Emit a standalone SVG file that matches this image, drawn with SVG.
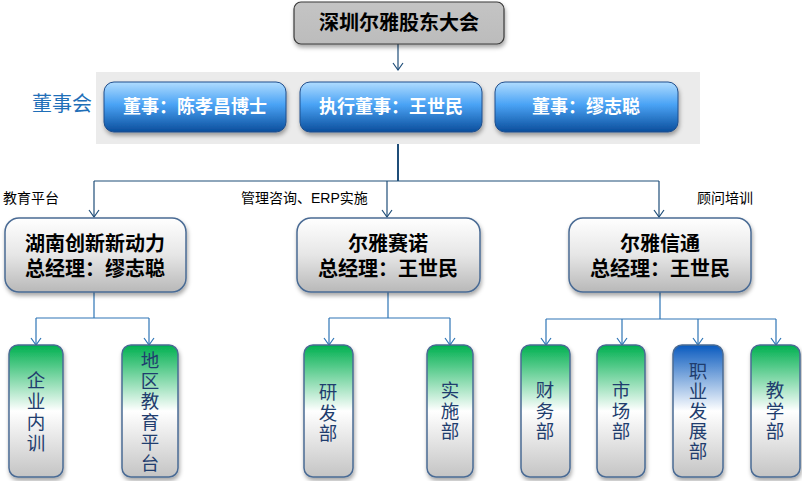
<svg xmlns="http://www.w3.org/2000/svg" width="802" height="481" viewBox="0 0 802 481">
<style>
.cn{font-family:"Liberation Sans","Noto Sans CJK SC",sans-serif}
.top{fill:url(#gGray2);stroke:#3a3a3a;stroke-width:1.2}
.blue{fill:url(#gBlue);stroke:#1f4e8c;stroke-width:1}
.mid{fill:url(#gMid);stroke:#4a6b94;stroke-width:1.5}
.grn{fill:url(#gGreen);stroke:#4a6b94;stroke-width:1.5}
.bl2{fill:url(#gBlue2);stroke:#4a6b94;stroke-width:1.5}
.t1{font-size:20px;font-weight:bold;fill:#000;text-anchor:middle}
.tb{font-size:18px;font-weight:bold;fill:#fff;text-anchor:middle}
.tm{font-size:20px;font-weight:bold;fill:#000;text-anchor:middle}
.tv{font-size:18.5px;fill:#1f3d6e;text-anchor:middle}
.lab{font-size:14px;fill:#000}
.c1{fill:none;stroke:#1f4e79;stroke-width:1.2}
.c2{fill:none;stroke:#2e75b6;stroke-width:1.2}
</style>
<defs>
<linearGradient id="gGray2" x1="0" y1="0" x2="0" y2="1"><stop offset="0" stop-color="#c4c4c4"/><stop offset="1" stop-color="#bcbcbc"/></linearGradient>
<linearGradient id="gBlue" x1="0" y1="0" x2="0" y2="1"><stop offset="0" stop-color="#b0dcff"/><stop offset="0.45" stop-color="#4aa3f5"/><stop offset="1" stop-color="#0b4e9c"/></linearGradient>
<linearGradient id="gMid" x1="0" y1="0" x2="0" y2="1"><stop offset="0" stop-color="#ffffff"/><stop offset="0.5" stop-color="#e6e6e6"/><stop offset="1" stop-color="#b8b8b8"/></linearGradient>
<linearGradient id="gGreen" x1="0" y1="0" x2="0" y2="1"><stop offset="0" stop-color="#00b050"/><stop offset="0.5" stop-color="#ffffff"/><stop offset="1" stop-color="#c4c4c4"/></linearGradient>
<linearGradient id="gBlue2" x1="0" y1="0" x2="0" y2="1"><stop offset="0" stop-color="#0a5bbf"/><stop offset="0.5" stop-color="#ffffff"/><stop offset="1" stop-color="#c4c4c4"/></linearGradient>
<filter id="sh" x="-20%" y="-20%" width="140%" height="150%"><feDropShadow dx="1" dy="3" stdDeviation="2" flood-color="#000" flood-opacity="0.35"/></filter>
<marker id="a1" markerWidth="12" markerHeight="12" refX="6" refY="10" markerUnits="userSpaceOnUse" viewBox="0 0 12 12"><path d="M1,3 L6,10 L11,3" fill="none" stroke="#1f4e79" stroke-width="1.2"/></marker>
<marker id="a2" markerWidth="12" markerHeight="12" refX="6" refY="10" markerUnits="userSpaceOnUse" viewBox="0 0 12 12"><path d="M1,3 L6,10 L11,3" fill="none" stroke="#2e75b6" stroke-width="1.2"/></marker>
</defs>
<rect x="0" y="0" width="802" height="481" fill="#fff"/>
<rect x="96" y="72" width="604" height="72" fill="#ebebeb"/>

<g id="connectors">
<path class="c1" d="M398,44 V70" marker-end="url(#a1)"/>
<path d="M398,144 V181" fill="none" stroke="#1f4e79" stroke-width="2"/>
<path class="c1" d="M94,181 H659"/>
<path class="c1" d="M94,181 V217" marker-end="url(#a1)"/>
<path class="c1" d="M387,181 V217" marker-end="url(#a1)"/>
<path class="c1" d="M659,181 V217" marker-end="url(#a1)"/>
<path class="c2" d="M94,292 V318 M36,318 H149"/>
<path class="c2" d="M36,318 V345" marker-end="url(#a2)"/>
<path class="c2" d="M149,318 V345" marker-end="url(#a2)"/>
<path class="c2" d="M388,292 V318 M329,318 H450"/>
<path class="c2" d="M329,318 V345" marker-end="url(#a2)"/>
<path class="c2" d="M450,318 V345" marker-end="url(#a2)"/>
<path class="c2" d="M660,292 V319 M546,319 H776"/>
<path class="c2" d="M546,319 V345" marker-end="url(#a2)"/>
<path class="c2" d="M622,319 V345" marker-end="url(#a2)"/>
<path class="c2" d="M698,319 V345" marker-end="url(#a2)"/>
<path class="c2" d="M776,319 V345" marker-end="url(#a2)"/>
</g>

<text class="cn lab" x="3" y="203">教育平台</text>
<text class="cn lab" x="241" y="203">管理咨询、ERP实施</text>
<text class="cn lab" x="697" y="203">顾问培训</text>
<text class="cn" x="32" y="111" font-size="20" fill="#1f6fb8">董事会</text>

<g id="top"><rect class="top" x="294" y="2" width="210" height="42" rx="7" filter="url(#sh)"/><text class="cn t1" x="399" y="30">深圳尔雅股东大会</text></g>

<g id="d1"><rect class="blue" x="104" y="82" width="182" height="50" rx="10" filter="url(#sh)"/><text class="cn tb" x="195" y="113">董事：陈孝昌博士</text></g>
<g id="d2"><rect class="blue" x="300" y="82" width="182" height="50" rx="10" filter="url(#sh)"/><text class="cn tb" x="391" y="113">执行董事：王世民</text></g>
<g id="d3"><rect class="blue" x="495" y="82" width="183" height="50" rx="10" filter="url(#sh)"/><text class="cn tb" x="586" y="113">董事：缪志聪</text></g>

<g id="m1"><rect class="mid" x="5" y="218" width="181" height="74" rx="14" filter="url(#sh)"/><text class="cn tm" x="95" y="251">湖南创新新动力</text><text class="cn tm" x="95" y="276">总经理：缪志聪</text></g>
<g id="m2"><rect class="mid" x="297" y="218" width="183" height="74" rx="14" filter="url(#sh)"/><text class="cn tm" x="388" y="251">尔雅赛诺</text><text class="cn tm" x="388" y="276">总经理：王世民</text></g>
<g id="m3"><rect class="mid" x="569" y="218" width="182" height="74" rx="14" filter="url(#sh)"/><text class="cn tm" x="660" y="251">尔雅信通</text><text class="cn tm" x="660" y="276">总经理：王世民</text></g>

<g id="b1"><rect class="grn" x="9" y="345" width="54" height="132" rx="9" filter="url(#sh)"/><text class="cn tv"><tspan x="36" y="387">企</tspan><tspan x="36" y="408">业</tspan><tspan x="36" y="429">内</tspan><tspan x="36" y="450">训</tspan></text></g>
<g id="b2"><rect class="grn" x="122" y="345" width="56" height="132" rx="9" filter="url(#sh)"/><text class="cn tv"><tspan x="150" y="367">地</tspan><tspan x="150" y="388">区</tspan><tspan x="150" y="408">教</tspan><tspan x="150" y="429">育</tspan><tspan x="150" y="449">平</tspan><tspan x="150" y="470">台</tspan></text></g>
<g id="b3"><rect class="grn" x="304" y="345" width="49" height="132" rx="9" filter="url(#sh)"/><text class="cn tv"><tspan x="328" y="399">研</tspan><tspan x="328" y="420">发</tspan><tspan x="328" y="440">部</tspan></text></g>
<g id="b4"><rect class="grn" x="427" y="345" width="46" height="132" rx="9" filter="url(#sh)"/><text class="cn tv"><tspan x="450" y="397">实</tspan><tspan x="450" y="418">施</tspan><tspan x="450" y="438">部</tspan></text></g>
<g id="b5"><rect class="grn" x="521" y="345" width="49" height="132" rx="9" filter="url(#sh)"/><text class="cn tv"><tspan x="545" y="397">财</tspan><tspan x="545" y="418">务</tspan><tspan x="545" y="438">部</tspan></text></g>
<g id="b6"><rect class="grn" x="597" y="345" width="48" height="132" rx="9" filter="url(#sh)"/><text class="cn tv"><tspan x="621" y="397">市</tspan><tspan x="621" y="418">场</tspan><tspan x="621" y="438">部</tspan></text></g>
<g id="b7"><rect class="bl2" x="673" y="345" width="50" height="132" rx="9" filter="url(#sh)"/><text class="cn tv"><tspan x="698" y="378">职</tspan><tspan x="698" y="398">业</tspan><tspan x="698" y="418">发</tspan><tspan x="698" y="438">展</tspan><tspan x="698" y="458">部</tspan></text></g>
<g id="b8"><rect class="grn" x="751" y="345" width="49" height="132" rx="9" filter="url(#sh)"/><text class="cn tv"><tspan x="775" y="397">教</tspan><tspan x="775" y="418">学</tspan><tspan x="775" y="438">部</tspan></text></g>
</svg>
